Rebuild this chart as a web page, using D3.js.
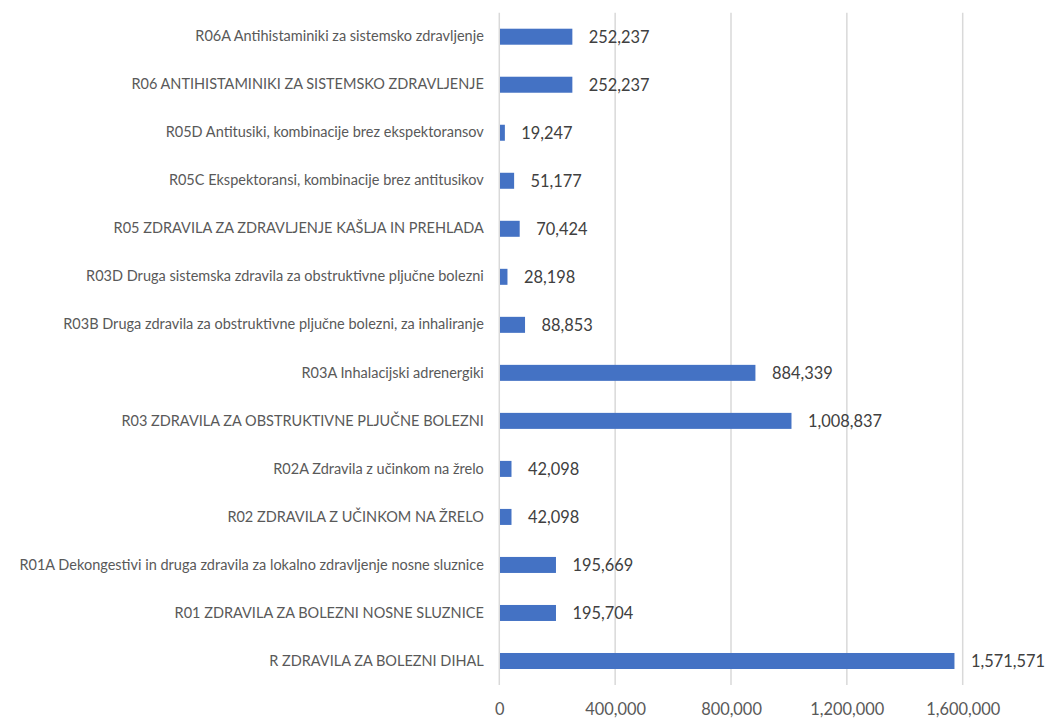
<!DOCTYPE html>
<html>
<head>
<meta charset="utf-8">
<script src="https://cdn.jsdelivr.net/npm/d3@7"></script>
<style>
  html, body { margin: 0; padding: 0; background: #ffffff; }
  svg { display: block; }
</style>
</head>
<body>
<div id="chart"></div>
<script>
const categories = [
  "R06A Antihistaminiki za sistemsko zdravljenje",
  "R06 ANTIHISTAMINIKI ZA SISTEMSKO ZDRAVLJENJE",
  "R05D Antitusiki, kombinacije brez ekspektoransov",
  "R05C Ekspektoransi, kombinacije brez antitusikov",
  "R05 ZDRAVILA ZA ZDRAVLJENJE KAŠLJA IN PREHLADA",
  "R03D Druga sistemska zdravila za obstruktivne pljučne bolezni",
  "R03B Druga zdravila za obstruktivne pljučne bolezni, za inhaliranje",
  "R03A Inhalacijski adrenergiki",
  "R03 ZDRAVILA ZA OBSTRUKTIVNE PLJUČNE BOLEZNI",
  "R02A Zdravila z učinkom na žrelo",
  "R02 ZDRAVILA Z UČINKOM NA ŽRELO",
  "R01A Dekongestivi in druga zdravila za lokalno zdravljenje nosne sluznice",
  "R01 ZDRAVILA ZA BOLEZNI NOSNE SLUZNICE",
  "R ZDRAVILA ZA BOLEZNI DIHAL"
];
const values = [252237, 252237, 19247, 51177, 70424, 28198, 88853, 884339, 1008837, 42098, 42098, 195669, 195704, 1571571];
const xTicks = [0, 400000, 800000, 1200000, 1600000];

const W = 1047, H = 718;
const plot = { left: 499.3, right: 962.7, top: 12.7, bottom: 685 };
const FONT = "Lato, 'Liberation Sans', Arial, sans-serif";

const svg = d3.select("#chart").append("svg").attr("width", W).attr("height", H);

const x = d3.scaleLinear().domain([0, 1600000]).range([plot.left, plot.right]);
const y = d3.scaleBand().domain(categories).range([plot.top, plot.bottom]).paddingInner(0.6667).paddingOuter(0.3333);

const fmt = d3.format(",");

// gridlines
svg.append("g").selectAll("line").data(xTicks).join("line")
  .attr("x1", d => x(d)).attr("x2", d => x(d))
  .attr("y1", plot.top).attr("y2", plot.bottom)
  .attr("stroke", "#d9d9d9").attr("stroke-width", 1.5);

// x tick labels via axis
const xAxis = d3.axisBottom(x).tickValues(xTicks).tickFormat(fmt).tickSize(0).tickPadding(0);
const gx = svg.append("g").attr("transform", `translate(0,${plot.bottom})`).call(xAxis);
gx.select(".domain").remove();
gx.selectAll("text")
  .attr("y", 29.5)
  .attr("dy", 0)
  .style("font-family", FONT).style("font-size", "16.4px").attr("fill", "#595959");

// y axis labels
const yAxis = d3.axisLeft(y).tickSize(0).tickPadding(15.5);
const gy = svg.append("g").attr("transform", `translate(${plot.left},0)`).call(yAxis);
gy.select(".domain").remove();
gy.selectAll("text")
  .style("font-family", FONT).style("font-size", "14.5px").attr("fill", "#595959");

// bars
svg.append("g").selectAll("rect").data(values).join("rect")
  .attr("x", x(0) + 0.7)
  .attr("y", (d, i) => y(categories[i]))
  .attr("width", d => x(d) - x(0) - 0.7)
  .attr("height", y.bandwidth())
  .attr("fill", "#4472c4");

// value labels
svg.append("g").selectAll("text").data(values).join("text")
  .attr("x", d => x(d) + 16.5)
  .attr("y", (d, i) => y(categories[i]) + y.bandwidth() / 2)
  .attr("dy", "0.36em")
  .style("font-family", FONT).style("font-size", "16.4px")
  .attr("fill", "#404040")
  .text(d => fmt(d));
</script>
</body>
</html>
